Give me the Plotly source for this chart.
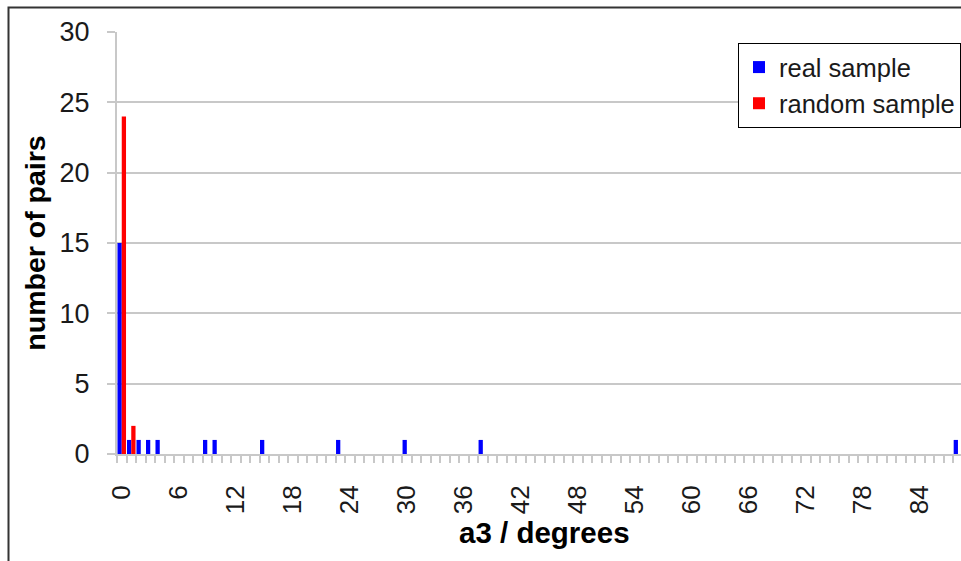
import plotly.graph_objects as go

# ---- data ----
real_bins = [0, 1, 2, 3, 4, 9, 10, 15, 23, 30, 38, 88]
real_counts = [15, 1, 1, 1, 1, 1, 1, 1, 1, 1, 1, 1]
random_bins = [0, 1]
random_counts = [24, 2]
x_tick_values = [0, 6, 12, 18, 24, 30, 36, 42, 48, 54, 60, 66, 72, 78, 84]
y_tick_values = [0, 5, 10, 15, 20, 25, 30]

FONT = "Liberation Sans, Arial, sans-serif"
W, H = 961, 561
L, R, T, B = 117, 0, 32, 107
PW, PH = W - L - R, H - T - B

def px_x(p):
    return (p - L) / PW

def px_y(p):
    return (H - B - p) / PH

fig = go.Figure()
fig.add_trace(go.Bar(x=real_bins, y=real_counts, name="real sample",
                     marker=dict(color="#0000FF", line=dict(width=0)),
                     legendgroup="a"))
fig.add_trace(go.Bar(x=random_bins, y=random_counts, name="random sample",
                     marker=dict(color="#FF0000", line=dict(width=0)),
                     legendgroup="b"))

grid = "#c8c8c8"
fig.update_layout(
    width=W, height=H,
    margin=dict(l=L, r=R, t=T, b=B, pad=0, autoexpand=False),
    paper_bgcolor="white", plot_bgcolor="white",
    font=dict(family=FONT, size=26, color="#1a1a1a"),
    barmode="group", bargap=0.1, bargroupgap=0,
    showlegend=True,
    legend=dict(x=px_x(738), y=px_y(43), xanchor="left", yanchor="top",
                bgcolor="white", bordercolor="#000000", borderwidth=1,
                font=dict(family=FONT, size=25.5, color="#1a1a1a"),
                tracegroupgap=10, itemwidth=30, traceorder="normal"),
    xaxis=dict(range=[-0.5, 88.32], tickmode="array", tickvals=x_tick_values,
               ticktext=[str(v) for v in x_tick_values], tickangle=-90,
               ticks="outside", ticklen=7, tickcolor="rgba(0,0,0,0)",
               ticklabelstandoff=12,
               minor=dict(ticks="outside", tick0=-0.5, dtick=1, ticklen=7,
                          tickwidth=2, tickcolor=grid, showgrid=False),
               showline=True, linecolor=grid, linewidth=2,
               showgrid=False, zeroline=False,
               tickfont=dict(family=FONT, size=26, color="#1a1a1a")),
    yaxis=dict(range=[0, 30], tickmode="array", tickvals=y_tick_values,
               ticks="outside", ticklen=8, tickwidth=2, tickcolor=grid,
               ticklabelstandoff=12,
               showline=True, linecolor=grid, linewidth=2,
               showgrid=True, gridcolor=grid, gridwidth=2, zeroline=False,
               tickfont=dict(family=FONT, size=27, color="#1a1a1a"),
               title=dict(text="<b>number of pairs</b>", standoff=6,
                          font=dict(family=FONT, size=28.5, color="#000000"))),
)

fig.add_annotation(text="<b>a3 / degrees</b>", xref="paper", yref="paper",
                   x=px_x(544.5), y=px_y(532), xanchor="center", yanchor="middle",
                   showarrow=False,
                   font=dict(family=FONT, size=29.5, color="#000000"))

# outer chart frame (cropped at right and bottom)
fig.add_shape(type="rect", xref="paper", yref="paper",
              x0=px_x(8.5), y0=px_y(7.5), x1=px_x(W + 20), y1=px_y(H + 20),
              line=dict(color="#333333", width=2), fillcolor="rgba(0,0,0,0)",
              layer="above")

fig.write_html("out.html")
